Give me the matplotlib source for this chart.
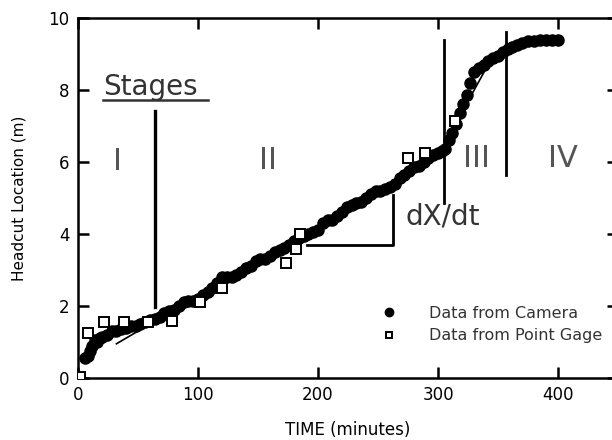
import matplotlib
matplotlib.use("Agg")
import matplotlib.pyplot as plt

# === DATA ===
# headcut position read from the camera (minutes, m)
cam_t = [6, 8, 10, 12, 14, 16, 18, 20, 24, 28, 32, 36, 40, 44, 48, 52, 56, 60,
         64, 68, 72, 76, 80, 84, 88, 92, 96, 100, 104, 108, 112, 116, 120, 124,
         128, 132, 136, 140, 144, 148, 152, 156, 160, 164, 168, 172, 176, 180,
         184, 188, 192, 196, 200, 204, 208, 212, 216, 220, 224, 228, 232, 236,
         240, 244, 248, 252, 256, 260, 264, 268, 272, 276, 280, 284, 288, 292,
         296, 300, 303, 306, 309, 312, 315, 318, 321, 324, 327, 330, 334, 338,
         342, 346, 350, 354, 358, 362, 366, 370, 375, 380, 385, 390, 395, 400]
cam_x = [0.55, 0.6, 0.75, 0.9, 1.05, 1.0, 1.1, 1.15, 1.2, 1.3, 1.3, 1.35, 1.4,
         1.45, 1.45, 1.5, 1.55, 1.6, 1.65, 1.7, 1.8, 1.85, 1.9, 2.0, 2.1, 2.15,
         2.15, 2.2, 2.3, 2.4, 2.5, 2.65, 2.8, 2.8, 2.8, 2.85, 2.95, 3.05, 3.1,
         3.25, 3.3, 3.3, 3.4, 3.5, 3.55, 3.6, 3.7, 3.8, 3.9, 3.95, 4.0, 4.05,
         4.1, 4.3, 4.4, 4.4, 4.5, 4.6, 4.75, 4.8, 4.85, 4.9, 5.0, 5.1, 5.2, 5.2,
         5.25, 5.3, 5.4, 5.55, 5.65, 5.75, 5.85, 5.9, 6.0, 6.1, 6.2, 6.25, 6.3,
         6.35, 6.6, 6.8, 7.05, 7.35, 7.6, 7.85, 8.2, 8.5, 8.6, 8.7, 8.8, 8.9,
         8.95, 9.05, 9.15, 9.2, 9.25, 9.3, 9.35, 9.35, 9.4, 9.4, 9.4, 9.4]

# point gage readings
gage_t = [2, 8, 22, 38, 58, 78, 102, 120, 173, 182, 185, 275, 289, 314]
gage_x = [0.02, 1.25, 1.55, 1.55, 1.55, 1.58, 2.1, 2.5, 3.2, 3.58, 4.0, 6.1,
          6.25, 7.15]

# fitted trend segments (t0, x0, t1, x1)
fit_stage2 = [32, 0.95, 300, 6.18]
fit_stage3 = [312, 6.9, 345, 8.9]

# stage boundaries (t, x_bottom, x_top)
stage_lines = [(64, 1.97, 7.42), (305, 4.85, 9.4), (357, 5.65, 9.6)]
stage_names = ["I", "II", "III", "IV"]
stage_label_t = [33, 158, 332, 404]
stage_label_x = [6.0, 6.05, 6.1, 6.1]

# slope triangle
tri_t = [191, 262.5, 262.5]
tri_x = [3.69, 3.69, 5.08]

# === PLOT ===
fig = plt.figure(figsize=(6.12, 4.4), dpi=100)
ax = fig.add_axes([78 / 612, 62 / 440, 540 / 612, 360 / 440])

ax.plot([fit_stage2[0], fit_stage2[2]], [fit_stage2[1], fit_stage2[3]],
        color="black", lw=1.2, zorder=2)
ax.plot([fit_stage3[0], fit_stage3[2]], [fit_stage3[1], fit_stage3[3]],
        color="black", lw=1.2, zorder=2)

ax.plot(cam_t, cam_x, "o", color="black", ms=8, mec="black",
        label="Data from Camera", zorder=3)
ax.plot(gage_t, gage_x, "s", color="black", ms=6.5, mfc="white", mew=1.4,
        label="Data from Point Gage", zorder=4)

for i, (t, lo, hi) in enumerate(stage_lines):
    ax.plot([t, t], [lo, hi], color="black", lw=2.4 if i == 0 else 2.0, zorder=5)

# slope triangle
ax.plot(tri_t, tri_x, color="black", lw=2.0, zorder=5)

for name, t, x in zip(stage_names, stage_label_t, stage_label_x):
    ax.text(t, x, name, fontsize=22, color="#555555", ha="center", va="center")

ax.text(21, 7.85, "Stages", fontsize=20, color="#333333", ha="left", va="baseline")
ax.plot([21, 108], [7.72, 7.72], color="#333333", lw=1.8)

ax.text(273, 4.5, "dX/dt", fontsize=20, color="#333333", ha="left", va="center")

ax.legend(loc="upper left", bbox_to_anchor=(0.535, 0.24), frameon=False,
          fontsize=11.5, handlelength=1.0, handletextpad=2.0, labelspacing=0.45,
          markerscale=0.75, labelcolor="#333333")

ax.set_xlim(0, 450)
ax.set_ylim(0, 10)
ax.set_xticks([0, 100, 200, 300, 400])
ax.set_yticks([0, 2, 4, 6, 8, 10])
ax.tick_params(direction="in", length=8, width=1.8, labelsize=12,
               top=True, right=True, pad=6)
for s in ax.spines.values():
    s.set_linewidth(1.8)

ax.set_xlabel("TIME (minutes)", fontsize=12, labelpad=12)
ax.set_ylabel("Headcut Location (m)", fontsize=11, labelpad=16)

fig.savefig("out.png", dpi=100)
